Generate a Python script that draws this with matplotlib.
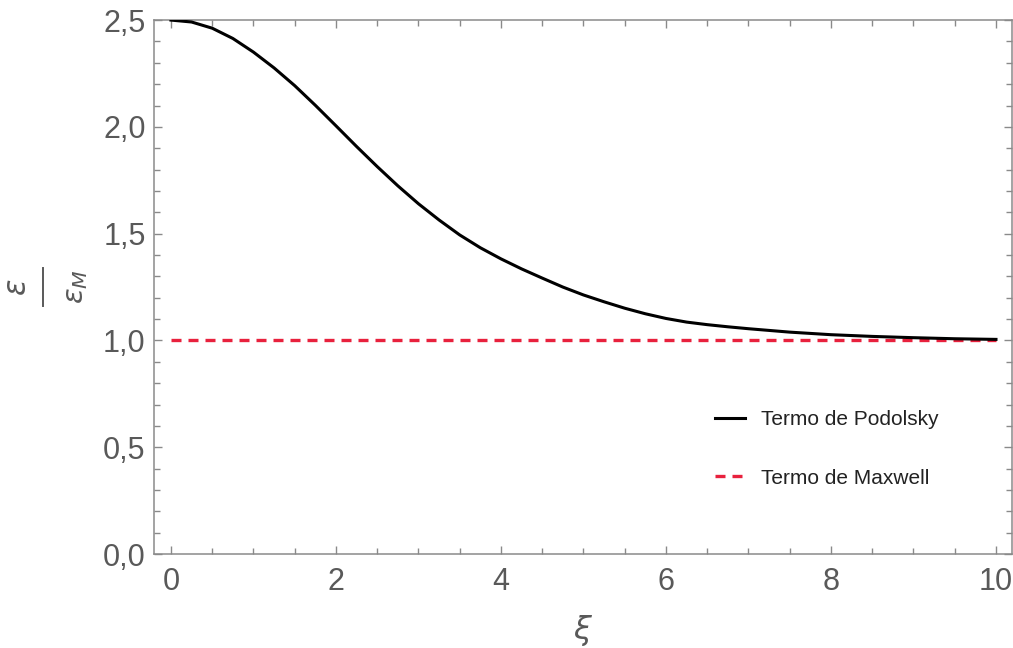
"""Razao epsilon/epsilon_M: termo de Podolsky vs termo de Maxwell."""

import matplotlib

matplotlib.use("Agg")
import matplotlib.pyplot as plt
from matplotlib.lines import Line2D
from matplotlib.ticker import MultipleLocator

# valores
xi = [0.0, 0.25, 0.5, 0.75, 1.0, 1.25, 1.5, 1.75, 2.0, 2.25, 2.5, 2.75,
      3.0, 3.25, 3.5, 3.75, 4.0, 4.25, 4.5, 4.75, 5.0, 5.25, 5.5, 5.75,
      6.0, 6.25, 6.5, 6.75, 7.0, 7.5, 8.0, 8.5, 9.0, 9.5, 10.0]
podolsky = [2.500, 2.491, 2.462, 2.414, 2.350, 2.276, 2.193, 2.101, 2.005, 1.908,
            1.814, 1.724, 1.640, 1.564, 1.494, 1.434, 1.382, 1.335, 1.292, 1.250,
            1.213, 1.181, 1.151, 1.125, 1.103, 1.086, 1.074, 1.064, 1.055, 1.039,
            1.027, 1.019, 1.013, 1.008, 1.005]
maxwell_xi = [0.0, 10.0]
maxwell = [1.0, 1.0]

x_ticks = [0, 2, 4, 6, 8, 10]
y_ticks = [0.0, 0.5, 1.0, 1.5, 2.0, 2.5]
y_tick_labels = ["0,0", "0,5", "1,0", "1,5", "2,0", "2,5"]

plt.rcParams["font.family"] = ["Liberation Sans", "DejaVu Sans"]
plt.rcParams["mathtext.fontset"] = "dejavusans"

axis_gray = "#8a8a8a"
label_gray = "#595959"

fig = plt.figure(figsize=(10.13, 6.48), dpi=100)
ax = fig.add_axes([0.152, 0.145, 0.847, 0.824])

ax.plot(xi, podolsky, color="black", linewidth=2.2, label="Termo de Podolsky",
        solid_joinstyle="round", zorder=3)
ax.plot(maxwell_xi, maxwell, color="#e8213d", linewidth=2.4,
        linestyle=(0, (3.0, 2.1)), label="Termo de Maxwell", zorder=2)

ax.set_xlim(-0.206, 10.194)
ax.set_ylim(0, 2.5)

ax.set_xticks(x_ticks)
ax.set_yticks(y_ticks)
ax.set_yticklabels(y_tick_labels)
ax.xaxis.set_minor_locator(MultipleLocator(0.5))
ax.yaxis.set_minor_locator(MultipleLocator(0.1))

ax.tick_params(which="both", direction="in", top=True, right=True,
               color=axis_gray, width=1.0)
ax.tick_params(which="major", length=6)
ax.tick_params(which="minor", length=4)
ax.tick_params(axis="both", which="major", labelsize=22, labelcolor=label_gray)
ax.tick_params(axis="x", which="major", pad=9)
ax.tick_params(axis="y", which="major", pad=6)
ax.tick_params(labeltop=False, labelright=False)

for spine in ax.spines.values():
    spine.set_color(axis_gray)
    spine.set_linewidth(1.1)

ax.set_xlabel(r"$\xi$", fontsize=23, color=label_gray, labelpad=12)

# rotulo do eixo y: fracao girada, como no original
W, H = 1013, 648
label_y = 1 - 287 / H
fig.text(18 / W, label_y, r"$\epsilon$", rotation=90, fontsize=22,
         color=label_gray, ha="center", va="center")
fig.add_artist(Line2D([43 / W, 43 / W], [1 - 306 / H, 1 - 268 / H],
                      transform=fig.transFigure, color=label_gray, linewidth=1.4))
fig.text(76 / W, label_y, r"$\epsilon_M$", rotation=90, fontsize=21,
         color=label_gray, ha="center", va="center")

leg = ax.legend(loc="center left", bbox_to_anchor=(0.654, 0.197),
                frameon=False, fontsize=15, handlelength=1.45,
                handletextpad=0.75, labelspacing=1.9, borderpad=0,
                borderaxespad=0)
for text in leg.get_texts():
    text.set_color("#222222")

fig.savefig("out.png", dpi=100)
